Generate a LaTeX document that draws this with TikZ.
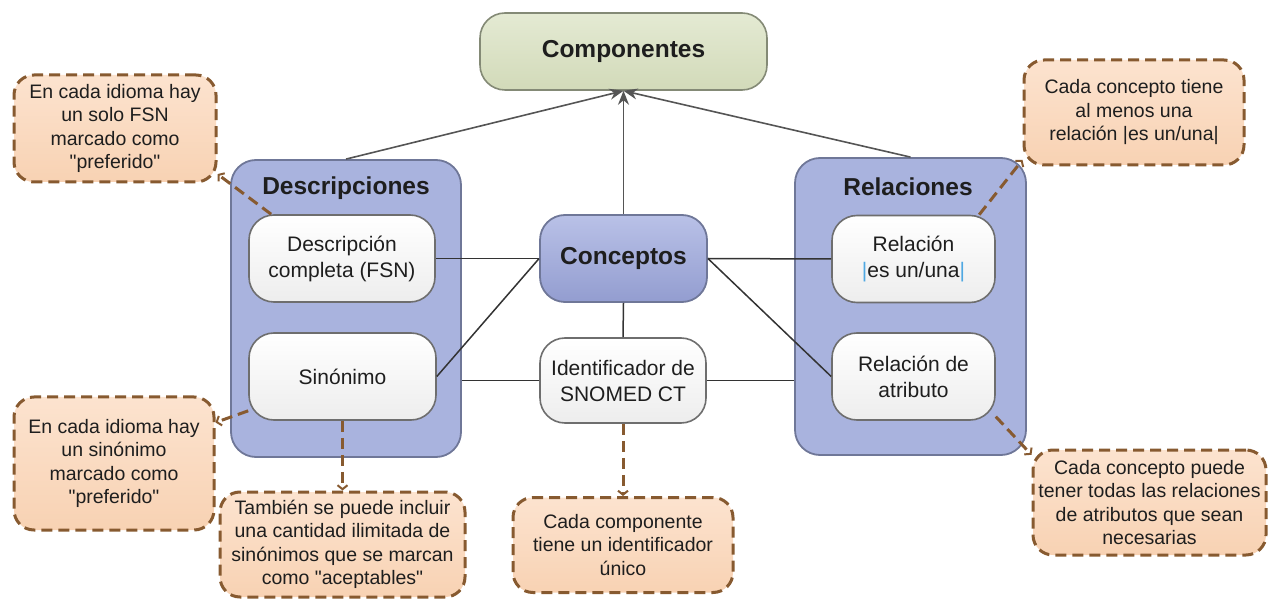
\documentclass[tikz,border=0pt]{standalone}
\usepackage{fontspec}
\setmainfont{Liberation Sans}
\usetikzlibrary{arrows.meta}
\definecolor{panelfill}{HTML}{A9B3DE}
\definecolor{panelline}{HTML}{6F7798}
\definecolor{hubtop}{HTML}{B9C1E7}
\definecolor{hubbot}{HTML}{939DD0}
\definecolor{comptop}{HTML}{E4EAD3}
\definecolor{compbot}{HTML}{D2DAB9}
\definecolor{compline}{HTML}{848A76}
\definecolor{entryline}{HTML}{6E6E6E}
\definecolor{memotop}{HTML}{FCE3CF}
\definecolor{memobot}{HTML}{F8D2B3}
\definecolor{memoline}{HTML}{875A30}
\definecolor{wiregray}{HTML}{333333}
\definecolor{feedgray}{HTML}{555555}
\definecolor{barblue}{HTML}{4FA8E2}
\definecolor{inktext}{HTML}{1E1E1E}
\begin{document}
\begin{tikzpicture}[x=1pt, y=-1pt,
panel/.style={draw=panelline, line width=1.8pt, fill=panelfill, rounded corners=25pt, minimum width=230pt, minimum height=297pt},
heading/.style={text=inktext, font=\fontsize{24.5}{28}\selectfont\bfseries},
hub/.style={draw=panelline, line width=1.8pt, top color=hubtop, bottom color=hubbot, rounded corners=25pt, minimum width=167pt, minimum height=87pt, text=inktext, font=\fontsize{24.5}{28}\selectfont\bfseries},
entry/.style={draw=entryline, line width=1.6pt, top color=white, bottom color=black!7, rounded corners=25pt, minimum height=87pt, align=center, text=inktext, font=\fontsize{21}{26}\selectfont},
memo/.style={draw=memoline, line width=3pt, dash pattern=on 11pt off 6pt, top color=memotop, bottom color=memobot, rounded corners=20pt, align=center, inner sep=4pt, text=inktext, font=\fontsize{19.5}{23.5}\selectfont},
wire/.style={draw=wiregray, line width=1.5pt},
feed/.style={draw=feedgray, line width=1.6pt, -{Stealth[length=14pt, width=11pt]}},
leader/.style={draw=memoline, line width=3pt, dash pattern=on 11pt off 6pt, -{Straight Barb[length=4pt, width=10pt, line width=2pt]}},
]
\useasboundingbox (0,0) rectangle (1269,601);

%Top
\node[draw=compline, line width=1.6pt, top color=comptop, bottom color=compbot, rounded corners=25pt, minimum width=287pt, minimum height=77pt, text=inktext, font=\fontsize{24.5}{28}\selectfont\bfseries] (comp) at (623.5,51.5) {Componentes};

%Groups
\node[panel] (desc) at (346,308.5) {};
\node[panel, minimum width=231pt] (rel) at (910.5,306.5) {};
\node[heading] (desctitle) at (346,188) {Descripciones};
\node[heading] (reltitle) at (908,187) {Relaciones};

%Inner boxes
\node[entry, minimum width=186pt] (fsn) at (342,258.5) {Descripción\\completa (FSN)};
\node[entry, minimum width=187pt] (sin) at (342.5,376.5) {Sinónimo};
\node[entry, minimum width=163pt] (isa) at (913.5,259) {Relación\\{\color{barblue}|}es un/una{\color{barblue}|}};
\node[entry, minimum width=163pt] (attr) at (913.5,376.5) {Relación de\\atributo};

%Middle
\node[hub] (conc) at (623.5,258.5) {Conceptos};
\node[entry, minimum width=166pt, minimum height=85pt] (ident) at (623,380.5) {Identificador de\\SNOMED CT};

%Notes
\node[memo, minimum width=202pt, minimum height=107pt] (memo1) at (115,128.5) {En cada idioma hay\\un solo FSN\\marcado como\\\textquotedbl preferido\textquotedbl};
\node[memo, minimum width=200pt, minimum height=133pt] (memo2) at (114,463.5) {En cada idioma hay\\un sinónimo\\marcado como\\\textquotedbl preferido\textquotedbl};
\node[memo, minimum width=245pt, minimum height=105pt] (memo3) at (342.5,544.5) {También se puede incluir\\una cantidad ilimitada de\\sinónimos que se marcan\\como \textquotedbl aceptables\textquotedbl};
\node[memo, minimum width=220pt, minimum height=95pt] (memo4) at (623,545) {Cada componente\\tiene un identificador\\único};
\node[memo, minimum width=220pt, minimum height=105pt] (memo5) at (1134,112.5) {Cada concepto tiene\\al menos una\\relación |es un/una|};
\node[memo, minimum width=233pt, minimum height=105pt] (memo6) at (1149.5,502.5) {Cada concepto puede\\tener todas las relaciones\\de atributos que sean\\necesarias};

%Arrows to top
\draw[feed] (desc.north) -- (comp.south);
\draw[feed] (conc.north) -- (comp.south);
\draw[feed] (rel.north) -- (comp.south);

%Connections
\draw[wire] (fsn.east) -- (conc.west);
\draw[wire] (sin.east) -- (conc.west);
\draw[wire] (conc.east) -- (isa.west);
\draw[wire] (conc.east) -- (attr.west);
\draw[wire] (conc.south) -- (ident.north);
\draw[wire] (ident.west) -- (ident.west -| desc.east);
\draw[wire] (ident.east) -- (ident.east -| rel.west);

%Note leaders
\draw[leader] (fsn.148) -- (memo1.-24);
\draw[leader] (sin.200) -- (memo2.22);
\draw[leader] (sin.south) -- (memo3.north);
\draw[leader] (ident.south) -- (memo4.north);
\draw[leader] (isa.34) -- (memo5.203);
\draw[leader] (attr.-26) -- (memo6.158);
\end{tikzpicture}
\end{document}
